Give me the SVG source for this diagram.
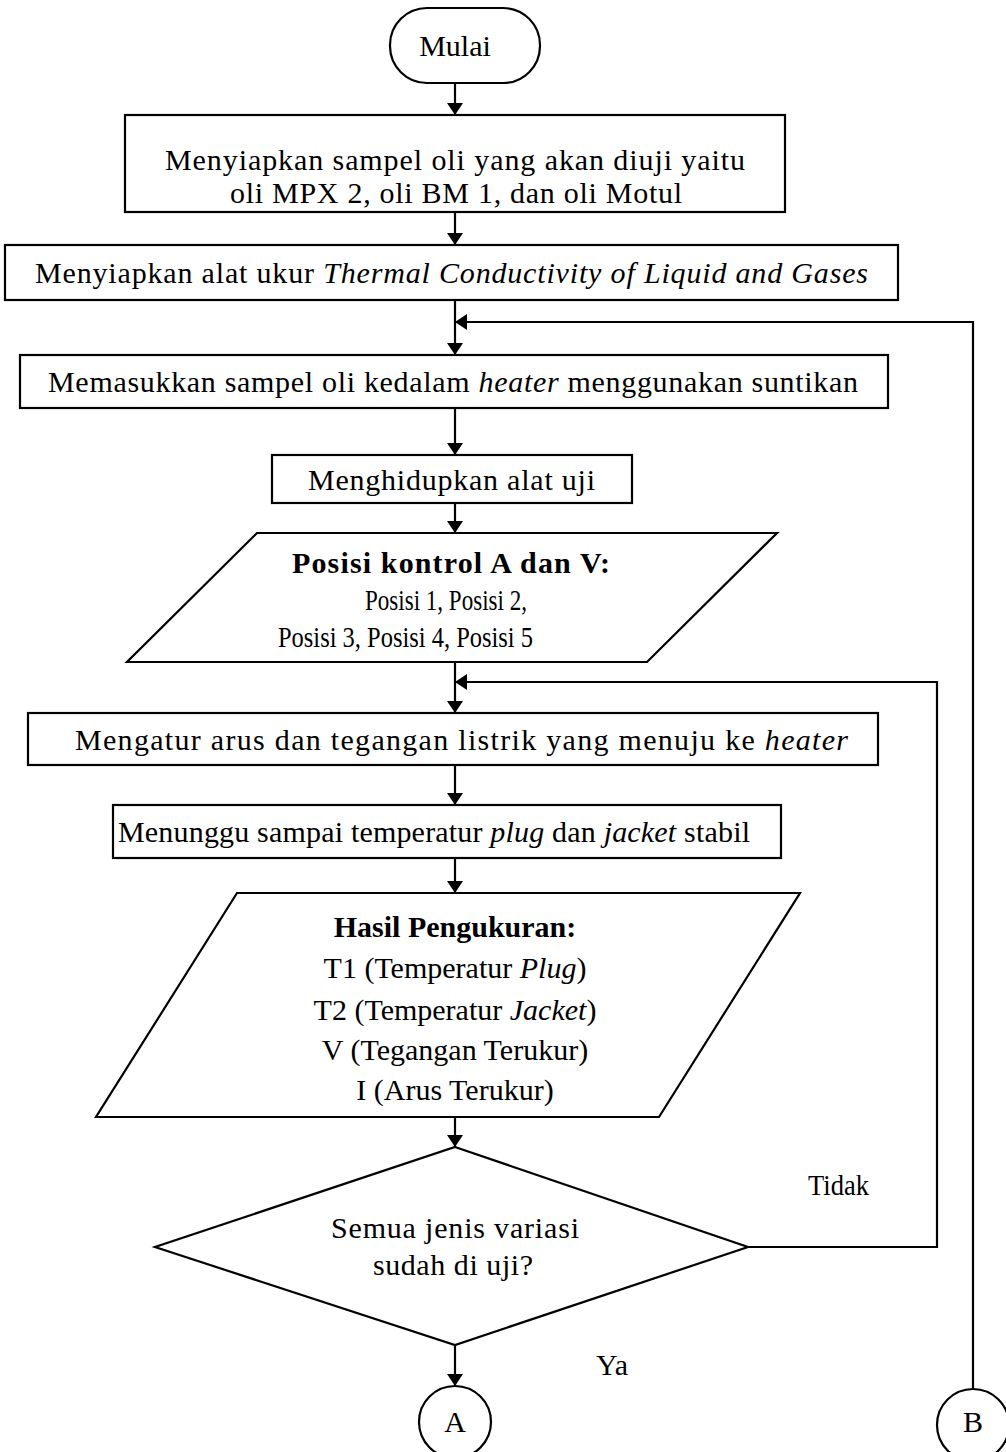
<svg xmlns="http://www.w3.org/2000/svg" width="1006" height="1452" viewBox="0 0 1006 1452">
  <defs>
    <marker id="arrow" viewBox="0 0 12 16" refX="12" refY="8" markerWidth="12" markerHeight="16" markerUnits="userSpaceOnUse" orient="auto">
      <path d="M0,0 L12,8 L0,16 Z" fill="#000"/>
    </marker>
  </defs>
  <style>
    .shape { fill: #fff; stroke: #000; stroke-width: 2.2; }
    .line { fill: none; stroke: #000; stroke-width: 2.2; }
    .t { font-family: "Liberation Serif", "Times New Roman", serif; font-size: 30px; fill: #000; }
    .c { text-anchor: middle; }
    .b { font-weight: bold; }
    .i { font-style: italic; }
  </style>
  <rect width="1006" height="1452" fill="#fff"/>

  <!-- connectors -->
  <g id="connectors">
    <line class="line" x1="455" y1="83" x2="455" y2="115" marker-end="url(#arrow)"/>
    <line class="line" x1="455" y1="212" x2="455" y2="245" marker-end="url(#arrow)"/>
    <line class="line" x1="455" y1="300" x2="455" y2="355" marker-end="url(#arrow)"/>
    <line class="line" x1="455" y1="408" x2="455" y2="455" marker-end="url(#arrow)"/>
    <line class="line" x1="455" y1="503" x2="455" y2="533" marker-end="url(#arrow)"/>
    <line class="line" x1="455" y1="662" x2="455" y2="713" marker-end="url(#arrow)"/>
    <line class="line" x1="455" y1="765" x2="455" y2="805" marker-end="url(#arrow)"/>
    <line class="line" x1="455" y1="858" x2="455" y2="893" marker-end="url(#arrow)"/>
    <line class="line" x1="455" y1="1117" x2="455" y2="1147" marker-end="url(#arrow)"/>
    <line class="line" x1="455" y1="1345" x2="455" y2="1386" marker-end="url(#arrow)"/>
    <!-- "Tidak" loop back to current/voltage setting -->
    <polyline class="line" points="748,1247 937,1247 937,682 455,682" marker-end="url(#arrow)"/>
    <!-- connector B loop back to sample filling -->
    <polyline class="line" points="973,1389 973,322 455,322" marker-end="url(#arrow)"/>
  </g>

  <g id="start">
    <rect class="shape" x="390" y="8" width="150" height="75" rx="37" ry="37"/>
    <text class="t c" x="455" y="56">Mulai</text>
  </g>

  <g id="prepare-samples">
    <rect class="shape" x="125" y="115" width="660" height="97"/>
    <text class="t c" x="455" y="170" textLength="580" lengthAdjust="spacing">Menyiapkan  sampel oli yang akan diuji yaitu</text>
    <text class="t c" x="456" y="203" textLength="452" lengthAdjust="spacing">oli MPX 2, oli BM 1, dan oli Motul</text>
  </g>

  <g id="prepare-instrument">
    <rect class="shape" x="5" y="245" width="893" height="55"/>
    <text class="t" x="35" y="283" textLength="833" lengthAdjust="spacing">Menyiapkan  alat ukur <tspan class="i">Thermal Conductivity of Liquid and Gases</tspan></text>
  </g>

  <g id="fill-heater">
    <rect class="shape" x="20" y="355" width="868" height="53"/>
    <text class="t" x="48" y="392" textLength="810" lengthAdjust="spacing">Memasukkan  sampel oli kedalam <tspan class="i">heater</tspan> menggunakan  suntikan</text>
  </g>

  <g id="power-on">
    <rect class="shape" x="272" y="455" width="360" height="48"/>
    <text class="t" x="308" y="490" textLength="287" lengthAdjust="spacing">Menghidupkan  alat uji</text>
  </g>

  <g id="control-position">
    <polygon class="shape" points="257,533 777,533 647,662 127,662"/>
    <text class="t b" x="292" y="573" textLength="318" lengthAdjust="spacing">Posisi kontrol  A dan V:</text>
    <text class="t" x="365" y="610" textLength="162" lengthAdjust="spacingAndGlyphs">Posisi 1, Posisi 2,</text>
    <text class="t" x="278" y="647" textLength="255" lengthAdjust="spacingAndGlyphs">Posisi 3, Posisi 4, Posisi 5</text>
  </g>

  <g id="set-current">
    <rect class="shape" x="28" y="713" width="850" height="52"/>
    <text class="t" x="75" y="750" textLength="773" lengthAdjust="spacing">Mengatur arus dan tegangan  listrik  yang menuju ke <tspan class="i">heater</tspan></text>
  </g>

  <g id="wait-stable">
    <rect class="shape" x="113" y="805" width="668" height="53"/>
    <text class="t" x="118" y="842" textLength="632" lengthAdjust="spacing">Menunggu  sampai temperatur <tspan class="i">plug</tspan> dan <tspan class="i">jacket</tspan> stabil</text>
  </g>

  <g id="results">
    <polygon class="shape" points="237,893 800,893 659,1117 96,1117"/>
    <text class="t c b" x="455" y="937">Hasil Pengukuran:</text>
    <text class="t c" x="455" y="978">T1 (Temperatur  <tspan class="i">Plug</tspan>)</text>
    <text class="t c" x="455" y="1020">T2 (Temperatur  <tspan class="i">Jacket</tspan>)</text>
    <text class="t c" x="455" y="1060">V (Tegangan  Terukur)</text>
    <text class="t c" x="455" y="1100">I (Arus  Terukur)</text>
  </g>

  <g id="decision">
    <polygon class="shape" points="455,1147 748,1247 455,1345 155,1247"/>
    <text class="t c" x="455" y="1238" textLength="248" lengthAdjust="spacing">Semua jenis variasi</text>
    <text class="t c" x="453" y="1275" textLength="160" lengthAdjust="spacing">sudah di uji?</text>
  </g>

  <g id="labels">
    <text class="t" x="808" y="1195" textLength="61" lengthAdjust="spacingAndGlyphs">Tidak</text>
    <text class="t" x="596" y="1375">Ya</text>
  </g>

  <g id="connector-a">
    <circle class="shape" cx="455" cy="1422" r="36"/>
    <text class="t c" x="455" y="1432">A</text>
  </g>

  <g id="connector-b">
    <circle class="shape" cx="973" cy="1425" r="36"/>
    <text class="t c" x="973" y="1432">B</text>
  </g>
</svg>
